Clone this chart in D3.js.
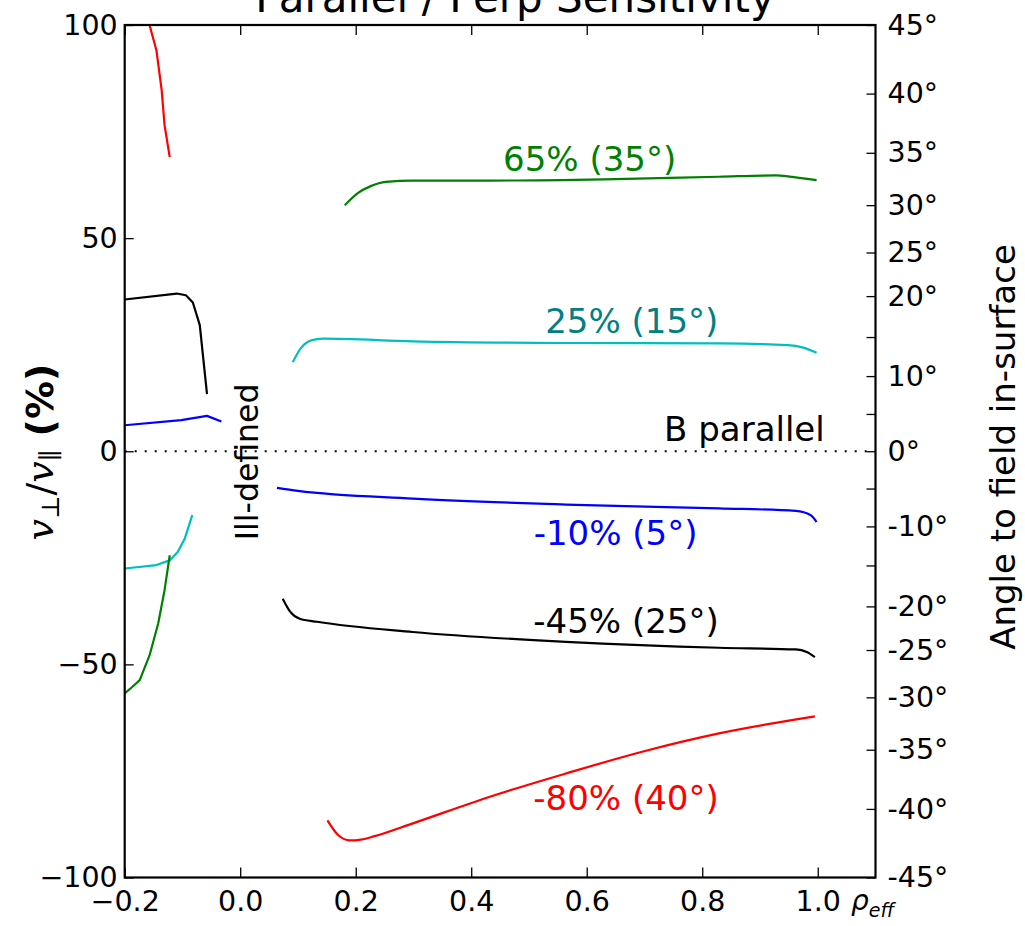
<!DOCTYPE html>
<html>
<head>
<meta charset="utf-8">
<script src="https://cdn.jsdelivr.net/npm/d3@7"></script>
<style>
  html, body { margin: 0; padding: 0; background: #fff; }
  svg { display: block; }
  text { font-family: "DejaVu Sans", sans-serif; }
</style>
</head>
<body>
<svg id="chart" width="1025" height="926"></svg>
<script>
// ---------- data ----------
const xTicks = [-0.2, 0.0, 0.2, 0.4, 0.6, 0.8, 1.0];
const xTickLabels = ["\u22120.2", "0.0", "0.2", "0.4", "0.6", "0.8", "1.0"];
const yTicks = [-100, -50, 0, 50, 100];
const yTickLabels = ["\u2212100", "\u221250", "0", "50", "100"];
const angleTicks = [45, 40, 35, 30, 25, 20, 15, 10, 5, 0, -5, -10, -15, -20, -25, -30, -35, -40, -45];
const angleLabeled = [45, 40, 35, 30, 25, 20, 10, 0, -10, -20, -25, -30, -35, -40, -45];

// curves: [rho_eff, v_perp / v_par (%)]
const redLeft   = [[-0.157, 100], [-0.145, 94], [-0.136, 84.7], [-0.131, 76.5], [-0.122, 69]];
const blackLeft = [[-0.2, 35.6], [-0.11, 37.0], [-0.094, 36.6], [-0.082, 34.9], [-0.07, 29.6], [-0.0575, 13.4]];
const blueLeft  = [[-0.2, 6.1], [-0.102, 7.3], [-0.0575, 8.3], [-0.0326, 7.0]];
const cyanLeft  = [[-0.2, -27.5], [-0.145, -26.7], [-0.122, -25.6], [-0.108, -23.6], [-0.096, -20.5], [-0.083, -15.0]];
const greenLeft = [[-0.2, -56.8], [-0.187, -55.3], [-0.174, -53.7], [-0.157, -47.9], [-0.142, -40.4], [-0.131, -32.6], [-0.122, -24.4]];

const greenRight = [[0.181, 57.7], [0.203, 60.5], [0.226, 62.2], [0.252, 63.2], [0.299, 63.5], [0.431, 63.5], [0.630, 63.8], [0.829, 64.4], [0.928, 64.7], [0.948, 64.5], [0.975, 64.0], [0.998, 63.6]];
const cyanRight  = [[0.091, 20.9], [0.105, 24.2], [0.123, 26.0], [0.143, 26.4], [0.299, 25.8], [0.564, 25.4], [0.829, 25.3], [0.948, 24.9], [0.975, 24.3], [0.998, 23.1]];
const blueRight  = [[0.0636, -8.6], [0.100, -9.3], [0.299, -11.1], [0.564, -12.5], [0.829, -13.4], [0.962, -14.0], [0.988, -15.0], [0.998, -16.6]];
const blackRight = [[0.0736, -34.6], [0.0868, -37.7], [0.103, -39.3], [0.133, -40.0], [0.299, -42.4], [0.564, -44.7], [0.829, -46.1], [0.962, -46.5], [0.981, -47.1], [0.995, -48.3]];
const redRight   = [[0.151, -86.6], [0.170, -90.1], [0.190, -91.3], [0.209, -91.1], [0.233, -90.3], [0.299, -87.3], [0.431, -81.1], [0.564, -75.6], [0.696, -70.5], [0.829, -66.2], [0.995, -62.2]];

const seriesList = [
  { pts: redLeft, color: "#ff0000", smooth: false },
  { pts: blackLeft, color: "#000000", smooth: false },
  { pts: blueLeft, color: "#0000ff", smooth: false },
  { pts: cyanLeft, color: "#00bfbf", smooth: false },
  { pts: greenLeft, color: "#008000", smooth: false },
  { pts: greenRight, color: "#008000", smooth: true },
  { pts: cyanRight, color: "#00bfbf", smooth: true },
  { pts: blueRight, color: "#0000ff", smooth: true },
  { pts: blackRight, color: "#000000", smooth: true },
  { pts: redRight, color: "#ff0000", smooth: true }
];

const annotations = [
  { text: "65% (35\u00b0)", x: 0.605, y: 65.7, color: "#008000", anchor: "middle" },
  { text: "25% (15\u00b0)", x: 0.678, y: 27.7, color: "#008080", anchor: "middle" },
  { text: "-10% (5\u00b0)", x: 0.650, y: -22.0, color: "#0000ff", anchor: "middle" },
  { text: "-45% (25\u00b0)", x: 0.668, y: -42.7, color: "#000000", anchor: "middle" },
  { text: "-80% (40\u00b0)", x: 0.668, y: -84.2, color: "#ff0000", anchor: "middle" },
  { text: "B parallel", x: 0.734, y: 2.3, color: "#000000", anchor: "start" }
];

// ---------- layout ----------
const svg = d3.select("#chart");
const L = 124.7, R = 875.5, T = 25, B = 877.5;

const x = d3.scaleLinear().domain([-0.2, 1.1]).range([L, R]);
const y = d3.scaleLinear().domain([-100, 100]).range([B, T]);
const toPct = a => 100 * Math.tan(a * Math.PI / 180);

svg.append("defs").append("clipPath").attr("id", "plotclip")
  .append("rect").attr("x", L).attr("y", T).attr("width", R - L).attr("height", B - T);

const plot = svg.append("g").attr("clip-path", "url(#plotclip)");

// B-parallel dotted line
plot.append("line")
  .attr("x1", x(-0.2)).attr("x2", x(1.1)).attr("y1", y(0)).attr("y2", y(0))
  .attr("stroke", "#000").attr("stroke-width", 2).attr("stroke-dasharray", "2,8");

const lineStraight = d3.line().x(d => x(d[0])).y(d => y(d[1]));
const lineSmooth = d3.line().x(d => x(d[0])).y(d => y(d[1])).curve(d3.curveMonotoneX);
seriesList.forEach(s => {
  plot.append("path").datum(s.pts)
    .attr("d", s.smooth ? lineSmooth : lineStraight).attr("fill", "none")
    .attr("stroke", s.color).attr("stroke-width", 2.2)
    .attr("stroke-linejoin", "round");
});

// annotations
annotations.forEach(a => {
  svg.append("text").attr("x", x(a.x)).attr("y", y(a.y))
    .attr("text-anchor", a.anchor).attr("fill", a.color)
    .attr("font-size", 34).text(a.text);
});

// Ill-defined
svg.append("text")
  .attr("transform", `translate(${x(0.030)},${y(-2.5)}) rotate(-90)`)
  .attr("text-anchor", "middle").attr("font-size", 31.5).attr("fill", "#000")
  .text("Ill-defined");

// ---------- axes ----------
const tickFont = 28.5;
const gBottom = svg.append("g").attr("transform", `translate(0,${B})`)
  .call(d3.axisBottom(x).tickValues(xTicks).tickSizeInner(-10).tickSizeOuter(0).tickPadding(13)
    .tickFormat((d, i) => xTickLabels[i]));
const gTop = svg.append("g").attr("transform", `translate(0,${T})`)
  .call(d3.axisTop(x).tickValues(xTicks).tickSizeInner(-10).tickSizeOuter(0).tickFormat(""));
const gLeft = svg.append("g").attr("transform", `translate(${L},0)`)
  .call(d3.axisLeft(y).tickValues(yTicks).tickSizeInner(-9).tickSizeOuter(0).tickPadding(7)
    .tickFormat((d, i) => yTickLabels[i]));
const gRight = svg.append("g").attr("transform", `translate(${R},0)`)
  .call(d3.axisRight(y).tickValues(angleTicks.map(toPct)).tickSizeInner(-9).tickSizeOuter(0).tickPadding(12)
    .tickFormat((d, i) => angleLabeled.includes(angleTicks[i]) ? angleTicks[i] + "\u00b0" : ""));

[gBottom, gTop, gLeft, gRight].forEach(g => {
  g.select(".domain").remove();
  g.selectAll(".tick line").attr("stroke", "#000").attr("stroke-width", 1.3);
  g.selectAll(".tick text").attr("font-family", "DejaVu Sans").attr("font-size", tickFont).attr("fill", "#000");
});

// frame
svg.append("rect").attr("x", L).attr("y", T).attr("width", R - L).attr("height", B - T)
  .attr("fill", "none").attr("stroke", "#000").attr("stroke-width", 2.2);

// title (partially cut off at top, as in the original figure)
svg.append("text").attr("x", 515).attr("y", 12).attr("text-anchor", "middle")
  .attr("font-size", 42).text("Parallel / Perp Sensitivity");

// left y label
const yl = svg.append("text")
  .attr("transform", `translate(53,${452}) rotate(-90)`)
  .attr("text-anchor", "middle").attr("font-size", 38);
yl.append("tspan").attr("font-family", "DejaVu Serif").attr("font-style", "italic").text("v");
yl.append("tspan").attr("font-family", "DejaVu Serif").attr("font-size", 25).attr("dy", 6).text("\u22a5");
yl.append("tspan").attr("font-family", "DejaVu Serif").attr("dy", -6).text("/");
yl.append("tspan").attr("font-family", "DejaVu Serif").attr("font-style", "italic").text("v");
yl.append("tspan").attr("font-family", "DejaVu Serif").attr("font-size", 25).attr("dy", 6).text("\u2225");
yl.append("tspan").attr("font-weight", "bold").attr("dy", -6).text(" (%)");

// right y label
svg.append("text")
  .attr("transform", `translate(1015,447) rotate(-90)`)
  .attr("text-anchor", "middle").attr("font-size", 34)
  .text("Angle to field in-surface");

// x label rho_eff
const xl = svg.append("text").attr("x", 851).attr("y", 910)
  .attr("font-family", "DejaVu Serif").attr("font-style", "italic").attr("font-size", 28);
xl.append("tspan").text("\u03c1");
xl.append("tspan").attr("font-size", 19).attr("dy", 7).text("eff");
</script>
</body>
</html>
